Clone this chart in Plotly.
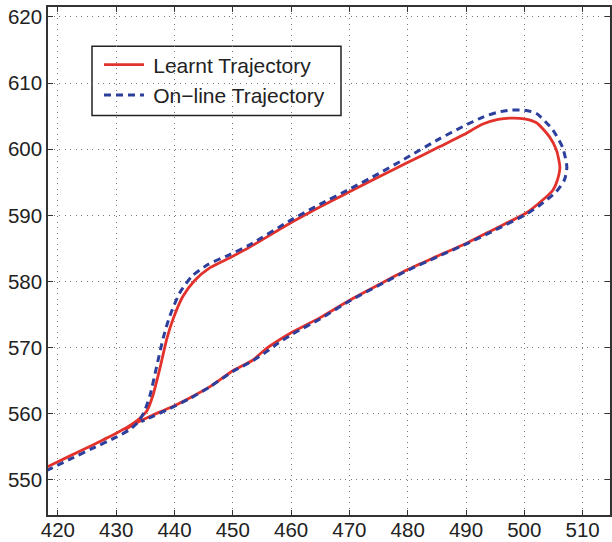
import plotly.graph_objects as go

# Learnt trajectory (red, solid)
learnt_x = [418.0, 422.0, 426.0, 430.1, 432.3, 434.0, 435.3, 436.3, 437.5, 438.7, 439.7, 441.4, 443.5,
            446.1, 449.5, 452.9, 459.8, 465.0, 470.1, 475.0, 479.8, 485.5, 489.4, 492.9, 495.5,
            497.5, 500.0, 502.1, 504.3, 505.5, 506.1, 505.7, 504.9, 502.6, 500.4, 494.6, 490.1,
            485.0, 480.0, 475.0, 470.1, 464.9, 460.3, 457.5, 455.8, 453.4, 450.0, 446.1, 442.6,
            439.2, 436.5, 434.1, 431.5]
learnt_y = [551.9, 553.6, 555.3, 557.1, 558.2, 559.3, 560.5, 562.8, 566.9, 571.4, 574.2, 577.7, 580.2,
            582.1, 583.6, 585.2, 588.8, 591.3, 593.6, 595.8, 597.9, 600.4, 602.1, 603.8, 604.5,
            604.7, 604.6, 604.0, 601.9, 599.9, 597.3, 595.4, 593.8, 591.9, 590.4, 587.8, 585.8,
            583.8, 581.8, 579.5, 577.2, 574.5, 572.4, 570.9, 569.9, 568.1, 566.5, 564.1, 562.4,
            560.9, 559.9, 558.9, 557.6]

# On-line trajectory (blue, dashed)
online_x = [418.0, 422.0, 426.0, 430.1, 432.3, 433.8, 434.8, 435.8, 436.9, 438.1, 439.2, 440.9, 443.0,
            445.8, 449.3, 452.8, 459.8, 465.0, 470.1, 475.0, 479.8, 485.5, 489.4, 493.0, 495.5,
            497.5, 500.0, 502.1, 504.9, 506.6, 507.3, 506.9, 505.5, 502.6, 500.4, 494.6, 490.1,
            485.0, 480.0, 475.0, 470.1, 464.9, 460.3, 457.5, 455.8, 453.4, 450.0, 446.1, 442.6,
            439.2, 436.5, 434.3]
online_y = [551.4, 553.1, 554.8, 556.5, 557.6, 558.8, 560.3, 562.8, 567.0, 571.6, 574.8, 578.3, 580.8,
            582.6, 584.0, 585.5, 589.2, 591.7, 594.0, 596.3, 598.7, 601.6, 603.4, 604.9, 605.6,
            605.9, 605.9, 605.4, 602.9, 600.2, 597.3, 595.4, 593.6, 591.5, 590.2, 587.6, 585.7,
            583.7, 581.7, 579.4, 577.1, 574.3, 572.1, 570.5, 569.4, 568.0, 566.4, 564.1, 562.3,
            560.8, 559.7, 558.8]

x_ticks = [420, 430, 440, 450, 460, 470, 480, 490, 500, 510]
y_ticks = [550, 560, 570, 580, 590, 600, 610, 620]

RED = "#e3312b"
BLUE = "#2c3f9d"
FONT = "Liberation Sans, Arial, sans-serif"

fig = go.Figure()
fig.add_trace(go.Scatter(x=learnt_x, y=learnt_y, mode="lines", name="\u2009Learnt Trajectory",
                         legendgroup="a",
                         line=dict(color=RED, width=2.8, shape="spline", smoothing=0.6)))
fig.add_trace(go.Scatter(x=online_x, y=online_y, mode="lines", name="\u2009On\u2212line Trajectory",
                         legendgroup="b",
                         line=dict(color=BLUE, width=3, dash="7px,5px", shape="spline", smoothing=0.6)))

axis_common = dict(
    showline=True, linecolor="#333333", linewidth=1.5, mirror="ticks",
    ticks="inside", ticklen=5, tickwidth=1, tickcolor="#333333",
    showgrid=True, gridcolor="#777777", gridwidth=1, griddash="1px,4.5px",
    zeroline=False, tickfont=dict(family=FONT, size=20.5, color="#222222"),
)

fig.update_xaxes(range=[418.3, 514.7], tickvals=x_ticks, ticktext=[str(v) for v in x_ticks],
                 ticklabelstandoff=-4, **axis_common)
fig.update_yaxes(range=[544.7, 621.5], tickvals=y_ticks, ticktext=[str(v) for v in y_ticks], **axis_common)

# legend frame (paper coordinates computed from the plot area: l=48, t=7, w=562, h=508)
def px_x(p):
    return (p - 48) / 562.0

def px_y(p):
    return 1 - (p - 7) / 508.0

fig.add_shape(type="rect", xref="paper", yref="paper",
              x0=px_x(92), x1=px_x(341), y0=px_y(115.5), y1=px_y(46.3),
              fillcolor="white", line=dict(color="#222222", width=1.5), layer="between")

fig.update_layout(
    width=612, height=542,
    margin=dict(l=48, r=2, t=7, b=27, autoexpand=False),
    plot_bgcolor="white", paper_bgcolor="white",
    showlegend=True,
    legend=dict(x=px_x(99), y=px_y(44.5), xanchor="left", yanchor="top",
                bgcolor="rgba(0,0,0,0)", borderwidth=0,
                font=dict(family=FONT, size=21, color="#222222"),
                tracegroupgap=0, itemwidth=40),
)

fig.write_html("out.html")
